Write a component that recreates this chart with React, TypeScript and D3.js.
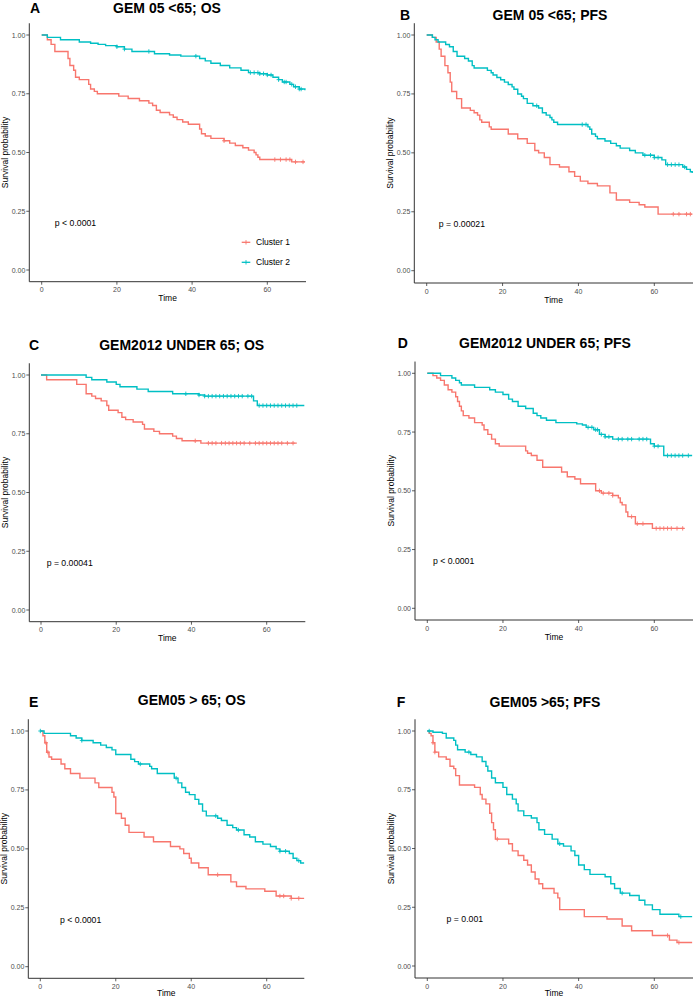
import React from "react";
import * as d3 from "d3";

// ---------- DATA (time in months, survival probability) ----------
const xTicks = [0, 20, 40, 60];
const yTicks = [0, 0.25, 0.5, 0.75, 1];
const yTickLabels = ["0.00", "0.25", "0.50", "0.75", "1.00"];
const seriesNames = ["Cluster 1", "Cluster 2"];
const seriesColors = ["#F8766D", "#00BFC4"];

const panelLetters = ["A", "B", "C", "D", "E", "F"];
const panelTitles = [
  "GEM 05 <65; OS",
  "GEM 05 <65; PFS",
  "GEM2012 UNDER 65; OS",
  "GEM2012 UNDER 65; PFS",
  "GEM05 > 65; OS",
  "GEM05 >65; PFS",
];
const pValues = ["p < 0.0001", "p = 0.00021", "p = 0.00041", "p < 0.0001", "p < 0.0001", "p = 0.001"];
const pValueX = [3.5, 3.2, 1.5, 1.5, 5.2, 5.1];

const A_c1: [number, number][] = [[0,1],[1.5,0.98],[2.5,0.96],[3.5,0.93],[7,0.9],[7.5,0.87],[8.5,0.85],[9,0.82],[10,0.81],[12.5,0.79],[13,0.77],[14,0.76],[14.8,0.75],[20.5,0.74],[23,0.73],[26,0.72],[28.5,0.71],[29.5,0.7],[30.5,0.68],[31.5,0.67],[34,0.66],[35,0.65],[36,0.64],[37.5,0.63],[39,0.62],[42,0.6],[42.5,0.58],[43.5,0.57],[45,0.56],[48.5,0.55],[50,0.54],[51.5,0.53],[53.5,0.52],[55,0.51],[56.5,0.5],[57,0.49],[57.5,0.48],[58,0.47],[66.5,0.46],[70,0.46]];
const A_c2: [number, number][] = [[0,1],[1.5,0.99],[5,0.98],[10,0.97],[13,0.965],[15,0.96],[17,0.955],[20,0.95],[22,0.94],[24,0.93],[30,0.92],[34,0.915],[37,0.91],[42,0.9],[43.5,0.89],[45,0.88],[47.5,0.87],[50,0.86],[53,0.85],[55,0.84],[58,0.835],[60,0.83],[61.5,0.82],[63,0.81],[64,0.8],[66,0.79],[67,0.78],[68.5,0.77],[70,0.765]];
const A_c1Cens = [48.5, 62, 63.5, 65, 66, 67.5, 69.5];
const A_c2Cens = [20, 22, 28.5, 41, 55.5, 56.5, 57.5, 58, 59, 60, 61, 63, 64.5, 65, 66.5, 67.5, 68.5, 69];

const B_c1: [number, number][] = [[0,1],[1.5,0.99],[2.5,0.97],[3.3,0.94],[3.8,0.91],[4.8,0.87],[5.6,0.84],[6.2,0.8],[6.6,0.76],[7.9,0.73],[9.2,0.69],[11.5,0.68],[12.5,0.67],[13.4,0.66],[14,0.64],[14.5,0.63],[16.5,0.61],[17,0.6],[21.5,0.58],[24,0.56],[26.5,0.54],[28.5,0.51],[29.5,0.5],[31,0.48],[32.5,0.45],[35,0.44],[37.5,0.42],[39,0.4],[40.5,0.38],[42.5,0.37],[45,0.36],[48.3,0.33],[50,0.3],[53.5,0.29],[56,0.28],[57.5,0.27],[61,0.24],[70,0.24]];
const B_c2: [number, number][] = [[0,1],[1.5,0.99],[2.2,0.98],[3,0.97],[5,0.96],[6,0.95],[7,0.93],[8,0.91],[10,0.9],[11,0.89],[12,0.87],[12.5,0.86],[16,0.85],[17,0.84],[17.5,0.83],[18.5,0.82],[19.5,0.81],[20.5,0.8],[21.5,0.79],[22.5,0.78],[23,0.77],[24,0.75],[25,0.74],[25.5,0.73],[26.5,0.71],[28,0.7],[29.5,0.69],[30.5,0.67],[31.5,0.66],[32.5,0.65],[33,0.64],[33.5,0.63],[34.5,0.62],[42.5,0.61],[43,0.6],[43.5,0.58],[44.5,0.57],[45,0.56],[47,0.55],[48.5,0.54],[50,0.53],[51,0.52],[53.5,0.51],[55,0.5],[57,0.49],[60,0.48],[62,0.47],[63,0.45],[67.5,0.44],[68.5,0.43],[69.5,0.42],[70,0.415]];
const B_c1Cens = [65, 66.5, 68.5, 69.5];
const B_c2Cens = [29, 41, 42, 57.5, 59, 60, 61, 63.5, 64.5, 65.5, 66.5, 68];

const C_c1: [number, number][] = [[0,1],[1.5,0.98],[9.5,0.96],[12,0.92],[13.5,0.91],[14.5,0.9],[16,0.89],[17.5,0.87],[18,0.85],[20.5,0.84],[21.5,0.82],[22.5,0.81],[24.5,0.8],[27,0.79],[27.5,0.77],[30,0.76],[31.5,0.75],[35,0.74],[36,0.73],[37.5,0.72],[42.5,0.71],[68,0.71]];
const C_c2: [number, number][] = [[0,1],[12,0.99],[13.5,0.98],[17.5,0.97],[20,0.96],[21,0.95],[25.5,0.94],[28.5,0.93],[35,0.92],[42,0.915],[43.5,0.91],[56.5,0.89],[57.5,0.87],[70,0.87]];
const C_c1Cens = [41, 44.5, 45.5, 46.5, 48, 49, 50, 51, 52, 53, 54, 55.5, 57, 58, 59, 60, 61, 62, 63, 64, 65.5, 67];
const C_c2Cens = [38.5, 42, 43.5, 44.5, 45.5, 46.5, 47.5, 48.5, 49.5, 50.5, 51.5, 52.5, 53.5, 55, 56, 58, 59, 60, 61, 62, 63, 64, 65, 66, 67, 68];

const D_c1: [number, number][] = [[0,1],[1.5,0.99],[2.5,0.98],[3.5,0.97],[4.5,0.95],[5.5,0.93],[6.5,0.92],[7.5,0.9],[8,0.88],[8.5,0.86],[9,0.84],[9.5,0.82],[11,0.81],[12.5,0.79],[14.5,0.78],[15,0.76],[16,0.74],[17,0.72],[18,0.7],[19,0.69],[26,0.67],[26.5,0.66],[27.5,0.65],[29,0.63],[30.5,0.6],[35.5,0.58],[37,0.56],[39,0.55],[40.5,0.53],[44.5,0.5],[46,0.49],[49,0.48],[50.5,0.47],[51,0.45],[51.5,0.44],[52.5,0.41],[53,0.39],[55,0.36],[59.5,0.34],[68,0.34]];
const D_c2: [number, number][] = [[0,1],[3.5,0.99],[6.5,0.98],[7.5,0.97],[8.5,0.96],[9,0.95],[12.5,0.94],[16.5,0.93],[18,0.92],[20,0.91],[21.5,0.89],[22.5,0.88],[24,0.86],[26,0.85],[28,0.83],[29,0.82],[30,0.81],[31.5,0.8],[34,0.79],[39.5,0.785],[41,0.78],[42,0.77],[44,0.76],[45.5,0.74],[47,0.73],[49,0.72],[59,0.7],[60,0.69],[62.5,0.65],[70,0.65]];
const D_c1Cens = [45.5, 46.5, 48, 49, 54, 55.5, 57, 60.5, 61.5, 62.5, 63.5, 64.5, 66, 67.5];
const D_c2Cens = [42.5, 43.5, 44.5, 45, 46, 47, 48, 50.5, 51.5, 53, 54, 56, 57, 58, 60, 61, 63.5, 64.5, 65.5, 66.5, 67.5, 69];

const E_c1: [number, number][] = [[0,1],[0.7,0.98],[1.2,0.95],[1.7,0.91],[2.3,0.89],[3,0.88],[5.5,0.86],[6.5,0.84],[8,0.82],[10.5,0.8],[14.5,0.78],[15.5,0.76],[19,0.74],[19.5,0.72],[20,0.65],[21.5,0.63],[22.5,0.6],[23.5,0.57],[27.5,0.55],[30,0.53],[34.5,0.51],[37,0.5],[38,0.48],[39.5,0.46],[40,0.44],[42,0.42],[44.5,0.39],[50.5,0.36],[52,0.34],[54.5,0.33],[59.5,0.32],[62.5,0.3],[66.5,0.29],[70,0.29]];
const E_c2: [number, number][] = [[0,1],[1,0.99],[8,0.98],[9.5,0.97],[11,0.96],[14,0.95],[16,0.94],[17.5,0.93],[19,0.92],[20,0.9],[24,0.88],[25,0.87],[26,0.86],[29,0.85],[29.5,0.84],[31,0.82],[35.5,0.8],[36.5,0.78],[37.5,0.76],[38.5,0.74],[39.5,0.73],[41,0.71],[42,0.69],[43,0.66],[44,0.64],[47,0.63],[48,0.62],[49.5,0.6],[51,0.59],[52,0.58],[54,0.56],[55.5,0.55],[57,0.53],[59,0.52],[61,0.51],[62.5,0.5],[63.5,0.49],[66,0.48],[67,0.46],[68,0.45],[69,0.44],[70,0.44]];
const E_c1Cens = [1.5, 2, 47, 63.5, 64.5, 66.5, 68.5];
const E_c2Cens = [0, 11, 26.5, 36, 46.5, 52.5, 63.5, 65, 68.5];

const F_c1: [number, number][] = [[0,1],[0.5,0.99],[1,0.98],[1.5,0.95],[2,0.91],[3,0.89],[5,0.88],[6,0.85],[7,0.84],[7.5,0.81],[8.5,0.77],[12.5,0.76],[14,0.73],[14.5,0.71],[15.5,0.69],[16.5,0.65],[17,0.61],[17.5,0.58],[18,0.54],[21.5,0.52],[22.5,0.49],[24,0.47],[25.5,0.45],[26.5,0.43],[27.5,0.4],[28.5,0.37],[29.5,0.35],[30.5,0.33],[33.5,0.31],[34.5,0.29],[35,0.24],[41.5,0.21],[47.5,0.2],[51.5,0.17],[54,0.15],[59.5,0.13],[64,0.11],[66,0.1],[70,0.1]];
const F_c2: [number, number][] = [[0,1],[1.5,0.995],[4,0.99],[5,0.97],[7,0.96],[7.5,0.94],[8,0.92],[10,0.91],[11.5,0.9],[13,0.89],[14.5,0.87],[15.5,0.85],[16,0.83],[17,0.8],[18,0.78],[20,0.76],[21,0.73],[22.5,0.71],[23.5,0.69],[24,0.66],[25.5,0.64],[27.5,0.63],[29,0.61],[29.5,0.58],[31,0.56],[33,0.54],[34.5,0.52],[36,0.51],[38,0.49],[39,0.47],[40,0.43],[41.5,0.41],[43,0.39],[47,0.38],[48.5,0.35],[49.5,0.33],[51,0.31],[53.5,0.3],[56,0.28],[57.5,0.26],[59.5,0.24],[61.5,0.22],[66.5,0.21],[70,0.21]];
const F_c1Cens = [1.5, 2, 18.5, 63.5, 66.5];
const F_c2Cens = [0.5, 11, 35, 51.5, 67];

const curvesC1 = [A_c1, B_c1, C_c1, D_c1, E_c1, F_c1];
const curvesC2 = [A_c2, B_c2, C_c2, D_c2, E_c2, F_c2];
const censC1 = [A_c1Cens, B_c1Cens, C_c1Cens, D_c1Cens, E_c1Cens, F_c1Cens];
const censC2 = [A_c2Cens, B_c2Cens, C_c2Cens, D_c2Cens, E_c2Cens, F_c2Cens];

// ---------- LAYOUT (pixel geometry per panel) ----------
type Geo = { axisX: number; x0: number; x60: number; xRight: number; y1: number; y0: number; axisY: number; titleX: number; titleY: number; letterX: number; letterY: number };
const layout: Geo[] = [
  { axisX: 29.3, x0: 41.7, x60: 267.3, xRight: 306, y1: 35, y0: 270, axisY: 281.7, titleX: 167, titleY: 12.7, letterX: 30, letterY: 12.7 },
  { axisX: 414.3, x0: 426.7, x60: 654.3, xRight: 693, y1: 35, y0: 270.7, axisY: 283, titleX: 550, titleY: 20, letterX: 400, letterY: 20 },
  { axisX: 29.3, x0: 41, x60: 266.7, xRight: 305.3, y1: 375, y0: 610, axisY: 621.7, titleX: 181.7, titleY: 350, letterX: 29, letterY: 350 },
  { axisX: 415, x0: 427.3, x60: 654.3, xRight: 693, y1: 373.3, y0: 608.3, axisY: 620, titleX: 545, titleY: 348, letterX: 397.7, letterY: 348 },
  { axisX: 28.3, x0: 40.3, x60: 266.7, xRight: 304.3, y1: 731, y0: 966.7, axisY: 978.3, titleX: 191.7, titleY: 705, letterX: 29, letterY: 707 },
  { axisX: 415, x0: 427.3, x60: 654.3, xRight: 693, y1: 731, y0: 966, axisY: 978, titleX: 545, titleY: 706.7, letterX: 396.7, letterY: 706.7 },
];

const FONT = "'Liberation Sans', Arial, Helvetica, sans-serif";
const AXIS = "#333333";

function stepValue(curve: [number, number][], t: number) {
  let s = curve[0][1];
  for (const [ti, si] of curve) {
    if (ti <= t) s = si;
    else break;
  }
  return s;
}

function Panel({ i }: { i: number }) {
  const g = layout[i];
  const x = d3.scaleLinear().domain([0, 60]).range([g.x0, g.x60]);
  const y = d3.scaleLinear().domain([0, 1]).range([g.y0, g.y1]);
  const top = y(1.05);
  const line = d3
    .line<[number, number]>()
    .x((d) => x(d[0]))
    .y((d) => y(d[1]))
    .curve(d3.curveStepAfter);
  const clipId = `clip${i}`;
  const curves = [curvesC1[i], curvesC2[i]];
  const cens = [censC1[i], censC2[i]];
  const midY = (top + g.axisY) / 2;
  const midX = (g.axisX + g.xRight) / 2;
  return (
    <g>
      <defs>
        <clipPath id={clipId}>
          <rect x={g.axisX} y={top - 3} width={g.xRight - g.axisX} height={g.axisY - top + 3} />
        </clipPath>
      </defs>
      <text x={g.letterX} y={g.letterY} fontFamily={FONT} fontWeight="bold" fontSize={14} fill="#000">
        {panelLetters[i]}
      </text>
      <text x={g.titleX} y={g.titleY} textAnchor="middle" fontFamily={FONT} fontWeight="bold" fontSize={14} fill="#000">
        {panelTitles[i]}
      </text>
      <g clipPath={`url(#${clipId})`}>
        {curves.map((c, k) => (
          <path key={k} d={line(c) || ""} fill="none" stroke={seriesColors[k]} strokeWidth={1.4} />
        ))}
        {cens.map((ts, k) =>
          ts.map((t, j) => {
            const cx = x(t);
            const cy = y(stepValue(curves[k], t));
            return (
              <path key={`${k}-${j}`} d={`M${cx - 2},${cy}H${cx + 2}M${cx},${cy - 2.2}V${cy + 2.2}`} stroke={seriesColors[k]} strokeWidth={0.9} fill="none" />
            );
          })
        )}
      </g>
      {/* axes */}
      <line x1={g.axisX} x2={g.axisX} y1={top} y2={g.axisY} stroke={AXIS} strokeWidth={1} />
      <line x1={g.axisX} x2={g.xRight} y1={g.axisY} y2={g.axisY} stroke={AXIS} strokeWidth={1} />
      {yTicks.map((v, k) => (
        <g key={`y${k}`}>
          <line x1={g.axisX - 3} x2={g.axisX} y1={y(v)} y2={y(v)} stroke={AXIS} strokeWidth={0.8} />
          <text x={g.axisX - 4} y={y(v) + 2.5} textAnchor="end" fontFamily={FONT} fontSize={7} fill="#4D4D4D">
            {yTickLabels[k]}
          </text>
        </g>
      ))}
      {xTicks.map((v, k) => (
        <g key={`x${k}`}>
          <line x1={x(v)} x2={x(v)} y1={g.axisY} y2={g.axisY + 3} stroke={AXIS} strokeWidth={0.8} />
          <text x={x(v)} y={g.axisY + 10.5} textAnchor="middle" fontFamily={FONT} fontSize={7} fill="#4D4D4D">
            {v}
          </text>
        </g>
      ))}
      <text x={midX} y={Math.min(g.axisY + 19.5, 995.5)} textAnchor="middle" fontFamily={FONT} fontSize={8.5} fill="#000">
        Time
      </text>
      <text
        transform={`translate(${g.axisX - 21.3},${midY}) rotate(-90)`}
        textAnchor="middle"
        fontFamily={FONT}
        fontSize={8.5}
        fill="#000"
      >
        Survival probability
      </text>
      <text x={x(pValueX[i])} y={y(0.2) + 3} fontFamily={FONT} fontSize={8.7} fill="#000">
        {pValues[i]}
      </text>
    </g>
  );
}

function Legend() {
  const items = [242.3, 262.3];
  return (
    <g>
      {seriesNames.map((n, k) => (
        <g key={n}>
          <line x1={241.7} x2={250.3} y1={items[k]} y2={items[k]} stroke={seriesColors[k]} strokeWidth={1.3} />
          <line x1={246} x2={246} y1={items[k] - 2.2} y2={items[k] + 2.2} stroke={seriesColors[k]} strokeWidth={0.9} />
          <text x={256} y={items[k] + 3} fontFamily={FONT} fontSize={8.5} fill="#000">
            {n}
          </text>
        </g>
      ))}
    </g>
  );
}

export default function App() {
  return (
    <svg width={693} height={998} style={{ position: "absolute", left: 0, top: 0, background: "#fff" }}>
      <rect x={0} y={0} width={693} height={998} fill="#fff" />
      {layout.map((_, i) => (
        <Panel key={i} i={i} />
      ))}
      <Legend />
    </svg>
  );
}
